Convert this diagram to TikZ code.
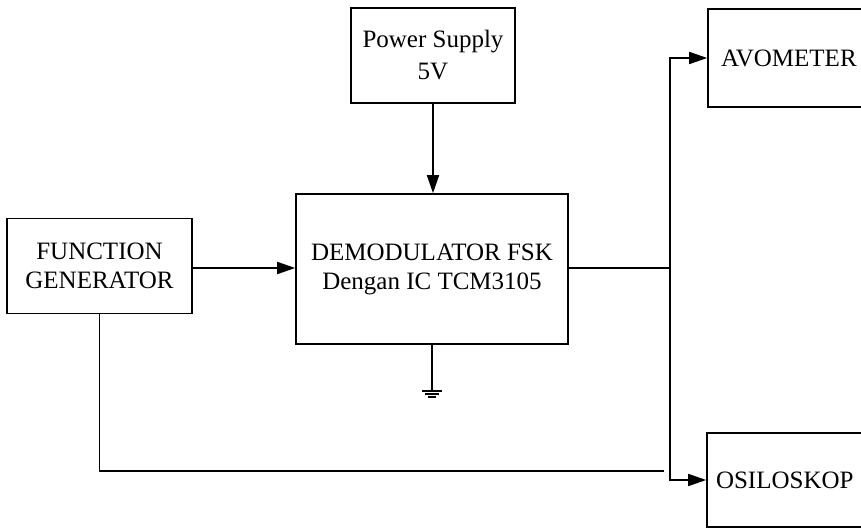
\documentclass[tikz,border=0pt]{standalone}
\usepackage{fontspec}
\setmainfont{Liberation Serif}
\usetikzlibrary{arrows.meta,calc}

\begin{document}
\begin{tikzpicture}[
        x=0.5pt,
        y=-0.5pt,
        block/.style={draw,line width=0.8pt,align=center,inner sep=0pt,
            font=\fontsize{12.5}{14.5}\selectfont},
        wire/.style={line width=0.8pt},
        feed/.style={line width=0.8pt,-{Triangle[length=9pt,width=6pt]}}
    ]
        \useasboundingbox (0,0) rectangle (861,529);

        % The blocks.
        \node[block,minimum width=82pt,minimum height=47.5pt] (power)
            at (433,55.5) {Power Supply\\[1.5pt]5V};
        \node[block,minimum width=136pt,minimum height=75pt] (demod)
            at (432,269) {DEMODULATOR FSK\\Dengan IC TCM3105};
        \node[block,minimum width=92.5pt,minimum height=47.5pt] (fungen)
            at (99.5,266) {FUNCTION\\GENERATOR};
        \node[block,minimum width=90pt,minimum height=49pt,
            text width=77pt,align=left] (avo)
            at (798,58) {AVOMETER};
        \node[block,minimum width=90pt,minimum height=47pt,
            text width=81pt,align=left] (osilo)
            at (797,480) {OSILOSKOP};

        % Supply, input and ground.
        \draw[feed] (power.south) -- (power.south |- demod.north);
        \draw[feed] (fungen.east |- 0,268) -- (demod.west |- 0,268);
        \coordinate (gnd) at ($(demod.south)+(0,46)$);
        \draw[wire] (demod.south) -- (gnd);
        \draw[wire] ($(gnd)+(-10,0)$) -- ($(gnd)+(10,0)$);
        \draw[wire] ($(gnd)+(-7,3)$) -- ($(gnd)+(7,3)$);
        \draw[wire] ($(gnd)+(-4,6)$) -- ($(gnd)+(4,6)$);

        % The output goes to both meters.
        \coordinate (split) at (670,268);
        \draw[wire] (demod.east |- split) -- (split);
        \draw[feed] (split) |- (avo.west);
        \draw[feed] (split) |- (osilo.west);

        % The generator signal runs under the demodulator.
        \coordinate (fgend) at (664,471);
        \draw[wire] (fungen.south) |- (fgend);
    \end{tikzpicture}
\end{document}
